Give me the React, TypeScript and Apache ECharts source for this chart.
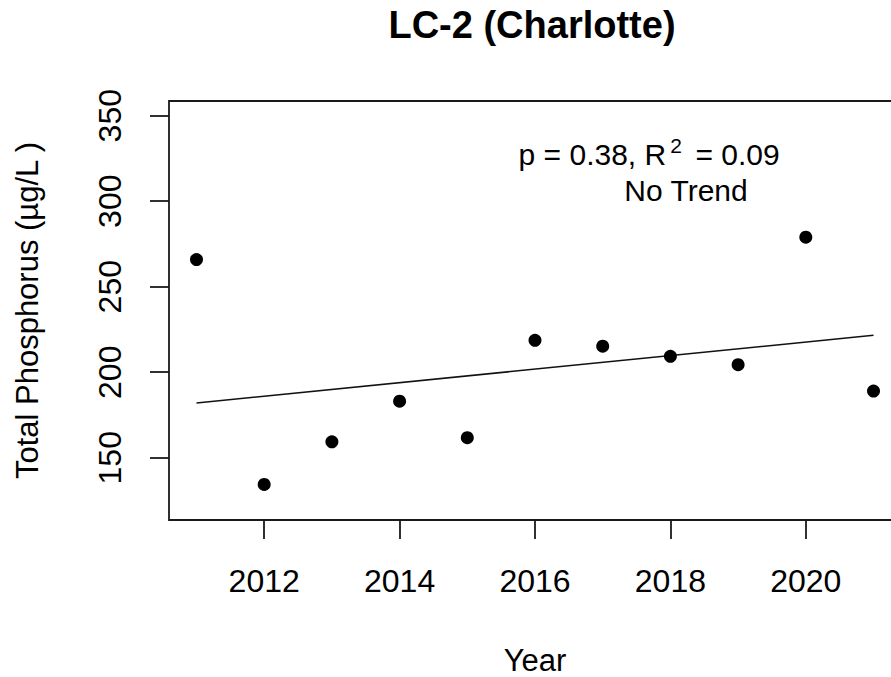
import React, { useEffect, useRef } from "react";
import * as echarts from "echarts";

const years = [2011, 2012, 2013, 2014, 2015, 2016, 2017, 2018, 2019, 2020, 2021];
const phosphorus = [265.9, 134.4, 159.3, 183.1, 161.7, 218.7, 215.2, 209.3, 204.4, 279.0, 189.0];
const xTicks = [2012, 2014, 2016, 2018, 2020];
const yTicks = [150, 200, 250, 300, 350];
const titleText = "LC-2 (Charlotte)";
const statLeft = "p = 0.38, R";
const statSup = "2";
const statRight = " = 0.09";
const trendText = "No Trend";

const FONT = "'Liberation Sans', Arial, Helvetica, sans-serif";
const INK = "#1a1a1a";

function fitLine(xs: number[], ys: number[]) {
  const n = xs.length;
  const mx = xs.reduce((a, b) => a + b, 0) / n;
  const my = ys.reduce((a, b) => a + b, 0) / n;
  let sxy = 0;
  let sxx = 0;
  for (let i = 0; i < n; i++) {
    sxy += (xs[i] - mx) * (ys[i] - my);
    sxx += (xs[i] - mx) * (xs[i] - mx);
  }
  const b = sxy / sxx;
  const a = my - b * mx;
  return (x: number) => a + b * x;
}

export default function App() {
  const ref = useRef<HTMLDivElement>(null);

  useEffect(() => {
    document.body.style.margin = "0";
    document.body.style.overflow = "hidden";
    const chart = echarts.init(ref.current!, undefined, { renderer: "svg" });
    const f = fitLine(years, phosphorus);
    const x0 = years[0];
    const x1 = years[years.length - 1];

    chart.setOption({
      animation: false,
      backgroundColor: "#ffffff",
      grid: {
        left: 169,
        top: 101,
        right: 0,
        bottom: 157,
        containLabel: false,
        outerBoundsMode: "none",
        show: true,
        borderColor: INK,
        borderWidth: 1.8,
        backgroundColor: "transparent",
      },
      xAxis: {
        type: "value",
        min: 2010.594,
        max: 2021.406,
        name: "Year",
        nameLocation: "middle",
        nameGap: 125,
        nameTextStyle: { fontFamily: FONT, fontSize: 31, color: "#000" },
        axisLine: { show: false },
        splitLine: { show: false },
        axisTick: {
          show: true,
          length: 19,
          customValues: xTicks,
          lineStyle: { color: INK, width: 1.8 },
        },
        axisLabel: {
          customValues: xTicks,
          margin: 45,
          fontFamily: FONT,
          fontSize: 32,
          color: "#000",
          formatter: (v: number) => String(v),
        },
      },
      yAxis: {
        type: "value",
        min: 113.6,
        max: 358.6,
        name: "Total Phosphorus (µg/L )",
        nameLocation: "middle",
        nameRotate: 90,
        nameGap: 126,
        nameTextStyle: { fontFamily: FONT, fontSize: 31, color: "#000" },
        axisLine: { show: false },
        splitLine: { show: false },
        axisTick: {
          show: true,
          length: 19,
          customValues: yTicks,
          lineStyle: { color: INK, width: 1.8 },
        },
        axisLabel: {
          customValues: yTicks,
          rotate: 90,
          margin: 43,
          fontFamily: FONT,
          fontSize: 32,
          color: "#000",
          formatter: (v: number) => String(v),
        },
      },
      series: [
        {
          type: "line",
          data: [
            [x0, f(x0)],
            [x1, f(x1)],
          ],
          symbol: "none",
          lineStyle: { color: "#111", width: 1.5 },
          silent: true,
          z: 2,
        },
        {
          type: "scatter",
          data: years.map((y, i) => [y, phosphorus[i]]),
          symbol: "circle",
          symbolSize: 13,
          itemStyle: { color: "#000", opacity: 1 },
          z: 3,
        },
      ],
      graphic: [
        {
          type: "text",
          x: 532,
          y: 25,
          style: {
            text: titleText,
            fontFamily: FONT,
            fontSize: 38,
            fontWeight: "bold",
            fill: "#000",
            textAlign: "center",
            textVerticalAlign: "middle",
          },
        },
        {
          type: "text",
          x: 518.6,
          y: 154.6,
          style: {
            text: statLeft,
            fontFamily: FONT,
            fontSize: 30,
            fill: "#000",
            textAlign: "left",
            textVerticalAlign: "middle",
          },
        },
        {
          type: "text",
          x: 676,
          y: 145.8,
          style: {
            text: statSup,
            fontFamily: FONT,
            fontSize: 21,
            fill: "#000",
            textAlign: "center",
            textVerticalAlign: "middle",
          },
        },
        {
          type: "text",
          x: 779.7,
          y: 154.6,
          style: {
            text: statRight,
            fontFamily: FONT,
            fontSize: 30,
            fill: "#000",
            textAlign: "right",
            textVerticalAlign: "middle",
          },
        },
        {
          type: "text",
          x: 686,
          y: 190.3,
          style: {
            text: trendText,
            fontFamily: FONT,
            fontSize: 30,
            fill: "#000",
            textAlign: "center",
            textVerticalAlign: "middle",
          },
        },
      ],
    });

    return () => {
      chart.dispose();
    };
  }, []);

  return (
    <div
      ref={ref}
      style={{ position: "fixed", left: 0, top: 0, width: 901, height: 677, background: "#fff" }}
    />
  );
}
